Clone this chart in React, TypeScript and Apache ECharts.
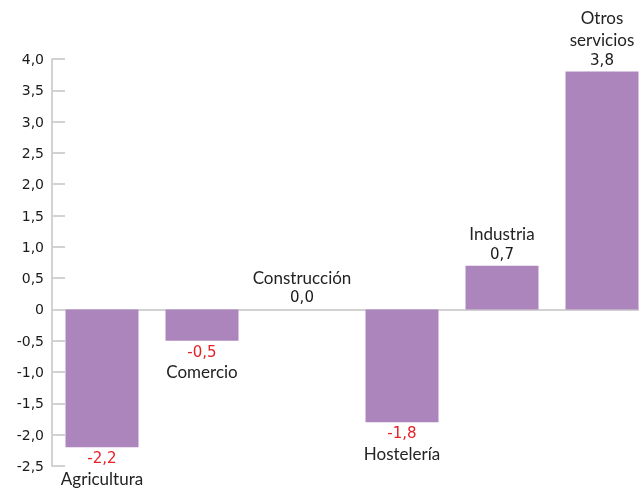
import React, { useEffect, useRef } from "react";
import * as echarts from "echarts";

const categories = ["Agricultura", "Comercio", "Construcción", "Hostelería", "Industria", "Otros\nservicios"];
const values = [-2.2, -0.5, 0.0, -1.8, 0.7, 3.8];

const fmt = (v: number) => (v === 0 ? "0" : v.toFixed(1).replace(".", ","));

export default function App() {
  const ref = useRef<HTMLDivElement>(null);
  useEffect(() => {
    if (!ref.current) return;
    const chart = echarts.init(ref.current, undefined, { renderer: "svg" });
    chart.setOption({
      animation: false,
      grid: { left: 52, width: 600, top: 59, bottom: 28, containLabel: false },
      xAxis: {
        type: "category",
        data: categories,
        axisLine: { show: true, onZero: true, lineStyle: { color: "#d2d2d2", width: 2 } },
        axisTick: { show: false },
        axisLabel: { show: false },
        splitLine: { show: false },
      },
      yAxis: {
        type: "value",
        min: -2.5,
        max: 4.0,
        interval: 0.5,
        axisLine: { show: true, lineStyle: { color: "#d2d2d2", width: 2 } },
        axisTick: { show: true, inside: true, length: 13, lineStyle: { color: "#d2d2d2", width: 2 } },
        axisLabel: {
          formatter: (v: number) => fmt(v),
          color: "#1a1a1a",
          fontFamily: "DejaVu Sans",
          fontSize: 14,
          margin: 8,
        },
        splitLine: { show: false },
      },
      series: [
        {
          type: "bar",
          data: values.map((v, i) => ({
            value: v,
            label: v >= 0
              ? {
                  show: true,
                  position: "top",
                  distance: 3,
                  formatter: `{n|${categories[i]}}\n{p|${v === 0 ? "0,0" : fmt(v)}}`,
                }
              : {
                  show: true,
                  position: "bottom",
                  distance: 2,
                  formatter: `{r|${fmt(v)}}\n{n|${categories[i]}}`,
                },
          })),
          barWidth: 73,
          itemStyle: { color: "#ac85bd" },
          label: {
            rich: {
              n: { fontFamily: "Lato", fontSize: 17, color: "#222", lineHeight: 22, align: "center" },
              p: { fontFamily: "DejaVu Sans", fontSize: 15, color: "#1a1a1a", lineHeight: 18, align: "center" },
              r: { fontFamily: "DejaVu Sans", fontSize: 15, color: "#e8202a", lineHeight: 18, align: "center" },
            },
          },
        },
      ],
    });
    return () => chart.dispose();
  }, []);
  return <div ref={ref} style={{ position: "fixed", left: 0, top: 0, width: 660, height: 494 }} />;
}
